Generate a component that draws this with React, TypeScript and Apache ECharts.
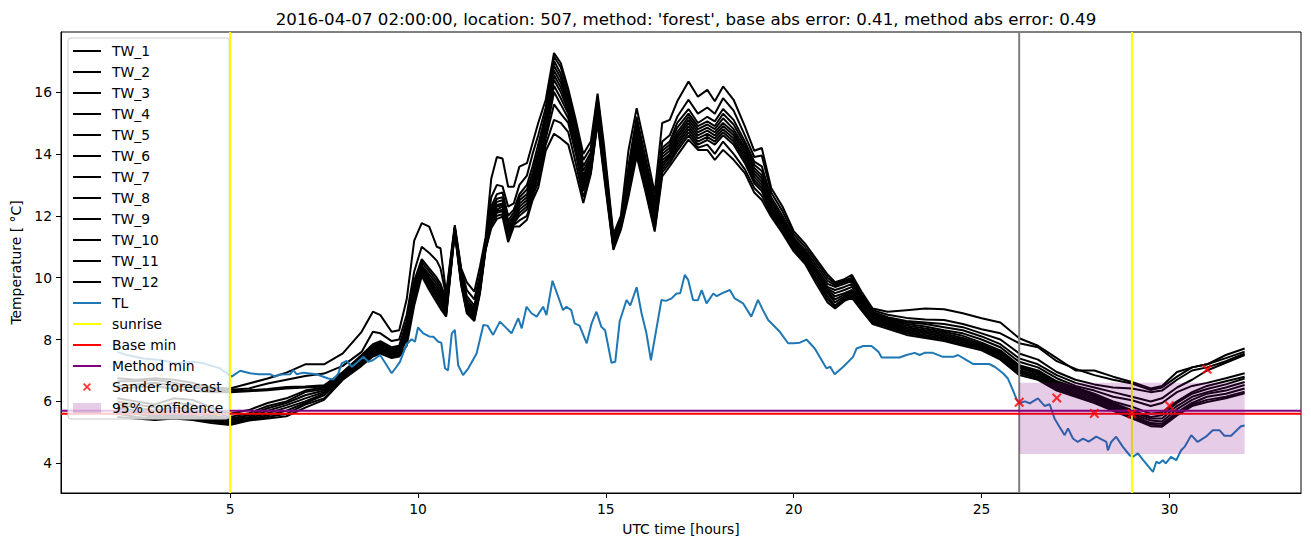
import React, { useEffect, useRef } from "react";
import * as echarts from "echarts";

// ---------- data ----------
const TITLE =
  "2016-04-07 02:00:00, location: 507, method: 'forest', base abs error: 0.41, method abs error: 0.49";

const HOURS = [
  2, 2.5, 3, 3.5, 4, 4.5, 5, 5.5, 6, 6.5,
  7, 7.5, 8, 8.5, 8.8, 9.0, 9.3, 9.5, 9.7, 9.9,
  10.1, 10.3, 10.5, 10.6, 10.75, 10.98, 11.15, 11.3, 11.5, 11.65,
  11.8, 11.95, 12.1, 12.25, 12.4, 12.55, 12.7, 12.9, 13.05, 13.2,
  13.4, 13.62, 13.8, 14.0, 14.2, 14.4, 14.6, 14.78, 14.95, 15.2,
  15.4, 15.6, 15.82, 16.05, 16.3, 16.5, 16.7, 16.9, 17.2, 17.45,
  17.7, 17.9, 18.12, 18.4, 18.7, 18.95, 19.15, 19.4, 19.7, 20.0,
  20.3, 20.6, 20.9, 21.1, 21.35, 21.55, 21.8, 22.1, 22.5, 23.0,
  23.5, 24.0, 24.5, 25.0, 25.5, 26.0, 26.5, 27.0, 27.5, 28.0,
  28.5, 29.0, 29.5, 29.8, 30.2, 30.6, 31.0, 31.5, 32.0,
];

const TW_1 = [
  6.75, 6.7, 6.75, 6.7, 6.6, 6.45, 6.42, 6.58, 6.74, 6.93,
  7.2, 7.2, 7.55, 8.25, 8.9, 8.79, 8.25, 8.3, 9.3, 11.2,
  11.76, 11.65, 11.0, 10.95, 9.5, 11.7, 10.3, 9.85, 9.55, 10.36,
  11.3, 13.2, 13.9, 13.85, 12.94, 12.94, 13.59, 13.7, 14.35, 15.0,
  15.75, 17.26, 16.94, 16.1, 15.1, 14.0, 14.4, 15.95, 14.3, 11.4,
  12.0, 14.1, 15.48, 14.2, 12.73, 15.0, 15.1, 15.7, 16.34, 15.85,
  16.07, 15.7, 16.18, 15.75, 14.89, 14.1, 14.19, 12.9, 12.3, 11.5,
  11.1, 10.6, 10.1, 9.85, 9.95, 10.09, 9.55, 9.0, 8.9, 8.95,
  9.0, 8.98, 8.85, 8.69, 8.55, 8.04, 7.8, 7.4, 7.0, 7.0,
  6.8, 6.63, 6.42, 6.5, 6.95, 7.1, 7.2, 7.5, 7.71,
];
const TW_2 = [
  6.65, 6.65, 6.7, 6.6, 6.5, 6.4, 6.38, 6.42, 6.58, 6.7,
  6.82, 6.9, 7.15, 7.6, 8.25, 8.2, 7.95, 8.0, 8.8, 10.2,
  11.0, 10.8, 10.55, 10.3, 9.4, 11.65, 10.25, 9.6, 9.3, 10.1,
  11.2, 12.6, 13.0, 12.95, 12.3, 12.4, 13.0, 13.3, 14.0, 14.6,
  15.5, 17.15, 16.8, 15.95, 14.95, 13.8, 14.2, 15.85, 14.1, 11.3,
  11.9, 13.6, 15.2, 13.9, 12.5, 14.4, 14.6, 15.2, 15.75, 15.3,
  15.5, 15.3, 15.8, 15.4, 14.6, 13.9, 13.95, 12.75, 12.15, 11.4,
  11.0, 10.5, 10.0, 9.8, 9.9, 10.0, 9.45, 8.95, 8.8, 8.7,
  8.65, 8.63, 8.5, 8.33, 8.2, 7.88, 7.75, 7.3, 7.05, 6.85,
  6.7, 6.58, 6.37, 6.45, 6.8, 7.1, 7.2, 7.4, 7.61,
];
const TW_3 = [
  6.5, 6.55, 6.6, 6.5, 6.45, 6.35, 6.33, 6.36, 6.4, 6.47,
  6.48, 6.52, 6.95, 7.5, 7.85, 7.95, 7.75, 7.8, 8.6, 9.9,
  10.6, 10.3, 10.0, 9.8, 9.3, 11.6, 10.2, 9.4, 9.1, 9.95,
  11.15, 12.3, 12.7, 12.75, 12.0, 12.2, 12.7, 13.0, 13.6, 14.3,
  15.3, 17.0, 16.6, 15.8, 14.8, 13.6, 14.05, 15.75, 14.0, 11.25,
  11.85, 13.4, 15.0, 13.75, 12.3, 14.2, 14.4, 15.0, 15.45, 15.0,
  15.2, 15.05, 15.45, 15.1, 14.4, 13.75, 13.6, 12.6, 12.0, 11.3,
  10.9, 10.4, 9.9, 9.75, 9.85, 9.95, 9.4, 8.9, 8.72, 8.6,
  8.55, 8.5, 8.4, 8.2, 8.0, 7.55, 7.35, 6.95, 6.7, 6.55,
  6.45, 6.42, 6.3, 6.35, 6.7, 7.0, 7.1, 7.3, 7.55,
];
const TW_4 = [
  6.4, 6.45, 6.5, 6.4, 6.35, 6.3, 6.3, 6.33, 6.36, 6.42,
  6.45, 6.48, 6.9, 7.45, 7.8, 7.9, 7.7, 7.75, 8.5, 9.8,
  10.5, 10.2, 9.9, 9.7, 9.2, 11.6, 10.15, 9.3, 9.0, 9.9,
  11.1, 12.2, 12.55, 12.6, 11.85, 12.1, 12.6, 12.85, 13.4, 14.1,
  15.15, 16.85, 16.45, 15.7, 14.7, 13.45, 13.95, 15.65, 13.9, 11.2,
  11.8, 13.3, 14.85, 13.6, 12.15, 14.1, 14.3, 14.85, 15.3, 14.9,
  15.05, 14.9, 15.3, 14.95, 14.3, 13.65, 13.45, 12.5, 11.9, 11.25,
  10.85, 10.3, 9.8, 9.7, 9.8, 9.9, 9.35, 8.85, 8.68, 8.55,
  8.5, 8.4, 8.3, 8.1, 7.85, 7.39, 7.2, 6.85, 6.6, 6.45,
  6.3, 6.15, 6.0, 6.1, 6.45, 6.7, 7.0, 7.25, 7.5,
];
const TW_5 = [
  6.1, 6.0, 5.9, 6.1, 6.05, 5.8, 5.6, 5.72, 5.95, 6.1,
  6.35, 6.45, 6.88, 7.42, 7.75, 7.88, 7.68, 7.72, 8.45, 9.7,
  10.4, 10.1, 9.8, 9.6, 9.1, 11.58, 10.1, 9.2, 8.95, 9.85,
  11.08, 12.1, 12.45, 12.5, 11.75, 12.0, 12.5, 12.7, 13.25, 13.95,
  15.0, 16.7, 16.3, 15.6, 14.6, 13.3, 13.85, 15.6, 13.8, 11.15,
  11.78, 13.2, 14.7, 13.5, 12.05, 14.0, 14.2, 14.7, 15.2, 14.8,
  14.95, 14.8, 15.15, 14.8, 14.2, 13.55, 13.3, 12.4, 11.85, 11.2,
  10.8, 10.25, 9.7, 9.6, 9.7, 9.8, 9.3, 8.8, 8.64, 8.5,
  8.42, 8.3, 8.2, 8.0, 7.75, 7.28, 7.1, 6.75, 6.5, 6.35,
  6.15, 6.04, 5.85, 5.95, 6.3, 6.5, 6.6, 6.75, 6.91,
];
const TW_6 = [
  6.0, 5.9, 5.8, 5.95, 5.9, 5.65, 5.5, 5.62, 5.85, 6.0,
  6.3, 6.4, 6.85, 7.4, 7.7, 7.85, 7.65, 7.7, 8.4, 9.65,
  10.35, 10.0, 9.7, 9.5, 9.05, 11.56, 10.05, 9.15, 8.9, 9.8,
  11.05, 12.0, 12.35, 12.4, 11.65, 11.95, 12.4, 12.6, 13.1, 13.8,
  14.9, 16.55, 16.15, 15.5, 14.5, 13.2, 13.75, 15.5, 13.75, 11.12,
  11.75, 13.1, 14.6, 13.4, 11.95, 13.9, 14.1, 14.6, 15.1, 14.7,
  14.85, 14.7, 15.0, 14.7, 14.1, 13.45, 13.2, 12.3, 11.8, 11.15,
  10.75, 10.2, 9.65, 9.5, 9.6, 9.7, 9.25, 8.75, 8.6, 8.45,
  8.36, 8.25, 8.12, 7.9, 7.65, 7.17, 7.0, 6.65, 6.45, 6.25,
  6.0, 5.83, 5.6, 5.65, 6.0, 6.3, 6.5, 6.65, 6.8,
];
const TW_7 = [
  5.9, 5.8, 5.7, 5.8, 5.75, 5.55, 5.45, 5.55, 5.78, 5.95,
  6.2, 6.35, 6.82, 7.38, 7.68, 7.8, 7.6, 7.68, 8.35, 9.6,
  10.3, 9.95, 9.6, 9.4, 9.0, 11.55, 10.0, 9.1, 8.85, 9.75,
  11.02, 11.95, 12.3, 12.35, 11.6, 11.9, 12.3, 12.5, 13.0, 13.7,
  14.8, 16.4, 16.0, 15.4, 14.4, 13.1, 13.65, 15.4, 13.7, 11.1,
  11.72, 13.0, 14.5, 13.3, 11.85, 13.8, 14.0, 14.5, 15.0, 14.6,
  14.75, 14.6, 14.9, 14.6, 14.0, 13.35, 13.1, 12.25, 11.75, 11.1,
  10.7, 10.15, 9.6, 9.4, 9.5, 9.6, 9.2, 8.72, 8.56, 8.4,
  8.3, 8.2, 8.05, 7.85, 7.6, 7.12, 6.95, 6.6, 6.4, 6.2,
  5.95, 5.72, 5.5, 5.55, 5.95, 6.25, 6.4, 6.55, 6.74,
];
const TW_8 = [
  5.8, 5.7, 5.6, 5.7, 5.65, 5.5, 5.4, 5.5, 5.7, 5.88,
  6.1, 6.3, 6.8, 7.35, 7.65, 7.75, 7.58, 7.65, 8.3, 9.55,
  10.25, 9.9, 9.5, 9.35, 8.95, 11.54, 9.95, 9.05, 8.8, 9.7,
  11.0, 11.9, 12.2, 12.3, 11.5, 11.85, 12.2, 12.4, 12.9, 13.6,
  14.7, 16.2, 15.8, 15.3, 14.3, 13.0, 13.6, 15.3, 13.6, 11.05,
  11.7, 12.95, 14.4, 13.2, 11.8, 13.7, 13.95, 14.4, 14.9, 14.5,
  14.65, 14.5, 14.8, 14.5, 13.9, 13.25, 13.0, 12.2, 11.7, 11.05,
  10.65, 10.1, 9.55, 9.3, 9.45, 9.55, 9.15, 8.7, 8.52, 8.35,
  8.25, 8.15, 8.0, 7.8, 7.55, 7.07, 6.9, 6.55, 6.35, 6.15,
  5.9, 5.67, 5.45, 5.45, 5.85, 6.15, 6.3, 6.45, 6.63,
];
const TW_9 = [
  5.75, 5.65, 5.55, 5.6, 5.55, 5.45, 5.35, 5.46, 5.62, 5.8,
  6.0, 6.25, 6.78, 7.3, 7.6, 7.7, 7.55, 7.6, 8.2, 9.5,
  10.2, 9.85, 9.45, 9.3, 8.9, 11.52, 9.9, 9.0, 8.75, 9.65,
  10.98, 11.85, 12.15, 12.2, 11.45, 11.8, 12.1, 12.3, 12.8, 13.45,
  14.6, 16.0, 15.6, 15.15, 14.15, 12.9, 13.5, 15.25, 13.55, 11.02,
  11.68, 12.9, 14.3, 13.1, 11.7, 13.6, 13.9, 14.3, 14.8, 14.4,
  14.55, 14.4, 14.7, 14.4, 13.8, 13.15, 12.9, 12.15, 11.65, 11.0,
  10.6, 10.0, 9.5, 9.2, 9.4, 9.5, 9.1, 8.65, 8.48, 8.3,
  8.2, 8.1, 7.95, 7.75, 7.5, 7.01, 6.85, 6.5, 6.3, 6.1,
  5.85, 5.61, 5.38, 5.35, 5.75, 6.05, 6.25, 6.35, 6.53,
];
const TW_10 = [
  5.65, 5.6, 5.5, 5.55, 5.5, 5.4, 5.3, 5.42, 5.55, 5.7,
  5.95, 6.2, 6.75, 7.25, 7.55, 7.65, 7.5, 7.55, 8.1, 9.4,
  10.15, 9.8, 9.4, 9.2, 8.85, 11.5, 9.85, 8.95, 8.7, 9.6,
  10.95, 11.8, 12.1, 12.15, 11.4, 11.75, 12.0, 12.2, 12.7, 13.3,
  14.5, 15.6, 15.3, 15.0, 14.0, 12.8, 13.45, 15.15, 13.5, 11.0,
  11.65, 12.8, 14.2, 13.0, 11.65, 13.5, 13.8, 14.2, 14.7, 14.3,
  14.45, 14.3, 14.6, 14.3, 13.7, 13.05, 12.8, 12.1, 11.6, 10.95,
  10.55, 9.95, 9.4, 9.1, 9.35, 9.45, 9.05, 8.6, 8.44, 8.25,
  8.15, 8.05, 7.9, 7.72, 7.45, 6.96, 6.8, 6.45, 6.25, 6.05,
  5.8, 5.56, 5.3, 5.28, 5.65, 5.95, 6.15, 6.25, 6.42,
];
const TW_11 = [
  5.6, 5.5, 5.45, 5.5, 5.45, 5.35, 5.27, 5.4, 5.5, 5.6,
  5.9, 6.1, 6.72, 7.2, 7.5, 7.6, 7.45, 7.5, 8.0, 9.3,
  10.1, 9.7, 9.3, 9.1, 8.8, 11.48, 9.8, 8.9, 8.65, 9.55,
  10.92, 11.7, 12.0, 12.05, 11.3, 11.7, 11.85, 12.0, 12.6, 13.1,
  14.3, 15.1, 15.0, 14.7, 13.7, 12.6, 13.4, 15.05, 13.4, 10.95,
  11.6, 12.7, 14.05, 12.9, 11.55, 13.4, 13.7, 14.1, 14.6, 14.2,
  14.3, 14.0, 14.4, 14.0, 13.5, 12.9, 12.65, 12.05, 11.5, 10.9,
  10.5, 9.9, 9.3, 9.05, 9.3, 9.4, 9.0, 8.55, 8.4, 8.2,
  8.1, 8.0, 7.85, 7.7, 7.4, 6.91, 6.75, 6.4, 6.2, 6.0,
  5.75, 5.5, 5.25, 5.22, 5.6, 5.9, 6.05, 6.15, 6.31,
];
const TW_12 = [
  5.5, 5.45, 5.4, 5.45, 5.4, 5.3, 5.24, 5.38, 5.45, 5.52,
  5.8, 6.05, 6.7, 7.15, 7.45, 7.55, 7.4, 7.45, 7.8, 9.1,
  10.05, 9.6, 9.2, 9.0, 8.74, 11.45, 9.75, 8.85, 8.6, 9.49,
  10.9, 11.6, 11.9, 11.97, 11.15, 11.65, 11.65, 11.87, 12.5, 12.9,
  14.1, 14.65, 14.5, 14.3, 13.4, 12.41, 13.35, 15.0, 13.3, 10.9,
  11.55, 12.6, 13.92, 12.8, 11.49, 13.27, 13.6, 13.95, 14.46, 14.13,
  14.13, 13.81, 14.13, 13.81, 13.38, 12.75, 12.51, 11.97, 11.44, 10.85,
  10.45, 9.8, 9.2, 9.0, 9.25, 9.35, 8.95, 8.5, 8.35, 8.15,
  8.05, 7.95, 7.8, 7.65, 7.35, 6.85, 6.7, 6.35, 6.15, 5.95,
  5.7, 5.45, 5.2, 5.18, 5.55, 5.85, 5.98, 6.1, 6.26,
];

const TL_HOURS = [
  2.0, 2.25, 2.7, 3.14, 3.58, 4.02, 4.29, 4.73, 5.04, 5.27,
  5.53, 5.76, 6.06, 6.2, 6.33, 6.6, 6.68, 6.77, 6.95, 7.3,
  7.61, 7.75, 7.88, 7.97, 8.1, 8.24, 8.37, 8.55, 8.68, 8.81,
  8.99, 9.1, 9.3, 9.43, 9.52, 9.7, 9.83, 9.92, 10.0, 10.14,
  10.3, 10.41, 10.54, 10.62, 10.72, 10.8, 10.9, 10.98, 11.07, 11.2,
  11.34, 11.56, 11.74, 11.85, 12.0, 12.18, 12.36, 12.49, 12.67, 12.76,
  12.89, 13.02, 13.16, 13.33, 13.42, 13.58, 13.73, 13.86, 13.95, 14.08,
  14.17, 14.3, 14.49, 14.62, 14.75, 14.88, 14.98, 15.15, 15.25, 15.37,
  15.55, 15.65, 15.82, 15.95, 16.08, 16.2, 16.48, 16.6, 16.75, 16.88,
  16.98, 17.1, 17.19, 17.32, 17.45, 17.55, 17.68, 17.86, 17.95, 18.1,
  18.3, 18.43, 18.65, 18.87, 19.05, 19.18, 19.32, 19.63, 19.85, 20.0,
  20.16, 20.34, 20.56, 20.87, 20.97, 21.09, 21.32, 21.58, 21.67, 21.85,
  22.07, 22.25, 22.34, 22.82, 23.0, 23.22, 23.35, 23.48, 23.7, 23.97,
  24.25, 24.37, 24.59, 24.77, 25.08, 25.2, 25.35, 25.57, 25.7, 25.83,
  25.94, 26.01, 26.15, 26.28, 26.5, 26.68, 26.81, 26.94, 27.07, 27.21,
  27.3, 27.43, 27.56, 27.7, 27.85, 28.05, 28.32, 28.36, 28.45, 28.58,
  28.76, 28.94, 29.03, 29.16, 29.3, 29.56, 29.65, 29.73, 29.82, 29.9,
  30.04, 30.18, 30.31, 30.4, 30.58, 30.75, 30.97, 31.15, 31.33, 31.46,
  31.64, 31.9, 32.0,
];
const TL_VALUES = [
  7.6, 7.5, 7.39, 7.34, 7.23, 7.28, 7.23, 7.07, 6.8, 6.99,
  6.91, 6.88, 6.88, 6.8, 6.87, 6.88, 7.01, 6.88, 6.93, 6.88,
  6.74, 6.71, 6.9, 7.23, 7.31, 7.12, 7.25, 7.44, 7.28, 7.34,
  7.5, 7.3, 6.91, 7.12, 7.28, 7.85, 8.01, 7.93, 8.39, 8.2,
  8.1, 8.09, 7.93, 7.9, 7.07, 7.0, 8.2, 8.31, 7.17, 6.85,
  7.07, 7.55, 8.47, 8.45, 8.15, 8.58, 8.36, 8.2, 8.69, 8.36,
  9.06, 8.85, 8.74, 9.06, 8.79, 9.9, 9.39, 8.95, 9.06, 8.95,
  8.52, 8.45, 7.88, 8.52, 8.9, 8.41, 8.3, 7.25, 7.28, 8.6,
  9.28, 9.1, 9.69, 8.85, 8.2, 7.33, 9.28, 9.25, 9.33, 9.49,
  9.5, 10.09, 9.93, 9.28, 9.27, 9.6, 9.17, 9.49, 9.4, 9.5,
  9.6, 9.33, 9.17, 8.74, 9.28, 8.95, 8.63, 8.25, 7.88, 7.88,
  7.9, 8.0, 7.71, 7.07, 7.12, 6.88, 7.12, 7.44, 7.71, 7.79,
  7.79, 7.61, 7.42, 7.42, 7.5, 7.57, 7.5, 7.57, 7.57, 7.44,
  7.44, 7.5, 7.34, 7.21, 7.21, 7.21, 7.12, 6.91, 6.74, 6.37,
  6.04, 5.94, 6.0, 5.94, 6.1, 5.85, 5.91, 5.45, 5.18, 4.91,
  5.13, 4.8, 4.69, 4.8, 4.7, 4.86, 4.69, 4.42, 4.69, 4.86,
  4.53, 4.26, 4.21, 4.32, 4.1, 3.72, 4.05, 4.0, 4.1, 4.0,
  4.21, 4.1, 4.42, 4.53, 4.91, 4.69, 4.86, 5.07, 5.07, 4.89,
  4.89, 5.2, 5.22,
];

const SANDER_HOURS = [26, 27, 28, 29, 30, 31];
const SANDER_VALUES = [5.97, 6.11, 5.61, 5.6, 5.86, 7.04];

const SUNRISE_HOURS = [5, 29];
const FORECAST_HOUR = 26;
const BASE_MIN = 5.6;
const METHOD_MIN = 5.7;
const CONF_HOURS = [26, 32];
const CONF_BOUNDS = [4.3, 6.6];

const X_TICKS = [5, 10, 15, 20, 25, 30];
const Y_TICKS = [4, 6, 8, 10, 12, 14, 16];
const X_RANGE = [0.5, 33.5];
const Y_RANGE = [3.04, 17.94];

// ---------- helpers ----------
const FONT = "DejaVu Sans";
const zip = (xs: number[], ys: number[]) => {
  const n = Math.min(xs.length, ys.length);
  const out: number[][] = [];
  for (let i = 0; i < n; i++) out.push([xs[i], ys[i]]);
  return out;
};

const X_PATH =
  "M0,1.5 L1.5,0 L5,3.5 L8.5,0 L10,1.5 L6.5,5 L10,8.5 L8.5,10 L5,6.5 L1.5,10 L0,8.5 L3.5,5 Z";
const LINE_ICON = "path://M0,0 L28,0 L28,2 L0,2 Z";
const X_ICON =
  "path://M0,0 L0,0 Z M28,14 L28,14 Z M10,4.2 L11.2,3 L14,5.8 L16.8,3 L18,4.2 L15.2,7 L18,9.8 L16.8,11 L14,8.2 L11.2,11 L10,9.8 L12.8,7 Z";
const RECT_ICON = "path://M0,0 L0,0 Z M28,14 L28,14 Z M0,2 L28,2 L28,12 L0,12 Z";

const TW_ALL = [TW_1, TW_2, TW_3, TW_4, TW_5, TW_6, TW_7, TW_8, TW_9, TW_10, TW_11, TW_12];

function buildOption() {
  const series: any[] = [];
  TW_ALL.forEach((vals, i) => {
    series.push({
      name: `TW_${i + 1}`,
      type: "line",
      data: zip(HOURS, vals),
      symbol: "none",
      showSymbol: false,
      silent: true,
      color: "#000000",
      lineStyle: { color: "#000000", width: 2 },
      z: 2,
    });
  });
  series.push({
    name: "TL",
    type: "line",
    data: zip(TL_HOURS, TL_VALUES),
    symbol: "none",
    showSymbol: false,
    silent: true,
    color: "#1f77b4",
    lineStyle: { color: "#1f77b4", width: 2 },
    z: 2,
  });
  series.push({
    name: "forecast time",
    type: "line",
    data: [
      [FORECAST_HOUR, Y_RANGE[0]],
      [FORECAST_HOUR, Y_RANGE[1]],
    ],
    symbol: "none",
    silent: true,
    color: "#808080",
    lineStyle: { color: "#808080", width: 2 },
    z: 2,
  });
  SUNRISE_HOURS.forEach((h) => {
    series.push({
      name: "sunrise",
      type: "line",
      data: [
        [h, Y_RANGE[0]],
        [h, Y_RANGE[1]],
      ],
      symbol: "none",
      silent: true,
      color: "#ffff00",
      lineStyle: { color: "#ffff00", width: 2 },
      z: 2,
    });
  });
  series.push({
    name: "Base min",
    type: "line",
    data: [
      [X_RANGE[0], BASE_MIN],
      [X_RANGE[1], BASE_MIN],
    ],
    symbol: "none",
    silent: true,
    color: "#ff0000",
    lineStyle: { color: "#ff0000", width: 2 },
    z: 2,
  });
  series.push({
    name: "Method min",
    type: "line",
    data: [
      [X_RANGE[0], METHOD_MIN],
      [X_RANGE[1], METHOD_MIN],
    ],
    symbol: "none",
    silent: true,
    color: "#800080",
    lineStyle: { color: "#800080", width: 2 },
    z: 2,
  });
  series.push({
    name: "95% confidence",
    type: "line",
    data: CONF_HOURS.map((h) => [h, CONF_BOUNDS[1]]),
    symbol: "none",
    silent: true,
    color: "rgba(128,0,128,0.2)",
    lineStyle: { width: 0, color: "rgba(128,0,128,0)" },
    areaStyle: { color: "rgba(128,0,128,0.2)", origin: CONF_BOUNDS[0], opacity: 1 },
    z: 3,
  });
  series.push({
    name: "Sander forecast",
    type: "scatter",
    data: zip(SANDER_HOURS, SANDER_VALUES),
    symbol: "path://" + X_PATH,
    symbolSize: 10,
    silent: true,
    color: "#ff0000",
    itemStyle: { color: "#ff0000" },
    z: 3,
  });

  const legendNames = [
    ...TW_ALL.map((_, i) => `TW_${i + 1}`),
    "TL",
    "sunrise",
    "Base min",
    "Method min",
  ];
  const legendData: any[] = legendNames.map((n) => ({ name: n, icon: LINE_ICON }));
  legendData.push({ name: "Sander forecast", icon: X_ICON });
  legendData.push({ name: "95% confidence", icon: RECT_ICON });

  return {
    animation: false,
    textStyle: { fontFamily: FONT },
    title: {
      text: TITLE,
      left: 681,
      top: 6,
      textAlign: "center",
      textStyle: { fontFamily: FONT, fontSize: 16.67, fontWeight: "normal", color: "#000" },
    },
    grid: {
      left: 61,
      top: 32,
      width: 1240,
      height: 461,
      show: true,
      borderColor: "#000",
      borderWidth: 1,
      backgroundColor: "transparent",
      containLabel: false,
    },
    legend: {
      orient: "vertical",
      left: 68,
      top: 38,
      padding: [6, 6, 4, 5],
      itemGap: 7,
      itemWidth: 28,
      itemHeight: 14,
      selectedMode: false,
      backgroundColor: "rgba(255,255,255,0.8)",
      borderColor: "#cccccc",
      borderWidth: 1,
      borderRadius: 3,
      itemStyle: { borderWidth: 0 },
      textStyle: { fontFamily: FONT, fontSize: 13.89, color: "#000", padding: [0, 0, 0, 6] },
      data: legendData,
      z: 10,
    },
    xAxis: {
      type: "value",
      min: X_RANGE[0],
      max: X_RANGE[1],
      name: "UTC time [hours]",
      nameLocation: "middle",
      nameGap: 29,
      nameTextStyle: { fontFamily: FONT, fontSize: 13.89, color: "#000" },
      axisLine: { show: true, onZero: false, lineStyle: { color: "#000", width: 1 } },
      axisTick: { show: true, length: 5, customValues: X_TICKS, lineStyle: { color: "#000", width: 1 } },
      axisLabel: { customValues: X_TICKS, fontFamily: FONT, fontSize: 13.89, color: "#000", margin: 9 },
      splitLine: { show: false },
    },
    yAxis: {
      type: "value",
      min: Y_RANGE[0],
      max: Y_RANGE[1],
      name: "Temperature [ °C]",
      nameLocation: "middle",
      nameGap: 36,
      nameTextStyle: { fontFamily: FONT, fontSize: 13.89, color: "#000" },
      axisLine: { show: true, onZero: false, lineStyle: { color: "#000", width: 1 } },
      axisTick: { show: true, length: 5, customValues: Y_TICKS, lineStyle: { color: "#000", width: 1 } },
      axisLabel: { customValues: Y_TICKS, fontFamily: FONT, fontSize: 13.89, color: "#000", margin: 9 },
      splitLine: { show: false },
    },
    series,
  };
}

export default function App() {
  const ref = useRef<HTMLDivElement>(null);
  useEffect(() => {
    if (!ref.current) return;
    const chart = echarts.init(ref.current, null, { renderer: "svg" });
    chart.setOption(buildOption() as any);
    return () => chart.dispose();
  }, []);
  return (
    <div
      ref={ref}
      style={{ position: "absolute", left: 0, top: 0, width: 1311, height: 547, background: "#fff" }}
    />
  );
}
